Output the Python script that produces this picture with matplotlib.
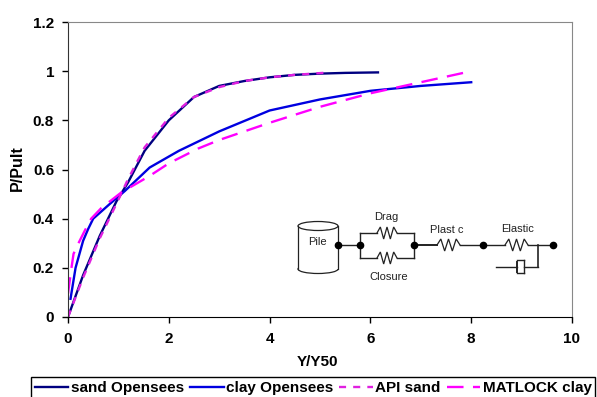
import matplotlib
matplotlib.use("Agg")
import matplotlib.pyplot as plt
from matplotlib.patches import Ellipse, Rectangle

sand_x = [0, 0.3, 0.63, 0.96, 1.19, 1.52, 2.0, 2.5, 3.0, 3.5, 4.0, 4.5, 5.0, 5.5, 6.15]
sand_y = [0, 0.17, 0.33, 0.47, 0.547, 0.676, 0.80, 0.895, 0.94, 0.96, 0.975, 0.985, 0.99, 0.993, 0.995]
clay_x = [0.05, 0.15, 0.3, 0.4, 0.5, 0.83, 1.13, 1.62, 2.2, 3.0, 4.0, 5.0, 6.0, 7.0, 8.0]
clay_y = [0.074, 0.2, 0.31, 0.358, 0.40, 0.46, 0.513, 0.608, 0.676, 0.755, 0.84, 0.885, 0.92, 0.94, 0.955]
api_x = [0, 0.3, 0.63, 0.96, 1.19, 1.52, 2.0, 2.5, 3.0, 3.5, 4.0, 4.5, 5.2]
api_y = [0, 0.16, 0.32, 0.46, 0.56, 0.69, 0.81, 0.895, 0.935, 0.96, 0.975, 0.985, 0.995]
matlock_x = [0, 0.066, 0.11, 0.2, 0.33, 0.46, 0.66, 1.06, 1.62, 2.0, 2.58, 3.0, 4.0, 5.0, 6.0, 7.0, 8.0]
matlock_y = [0.095, 0.196, 0.257, 0.297, 0.35, 0.40, 0.443, 0.507, 0.574, 0.625, 0.685, 0.72, 0.79, 0.855, 0.91, 0.955, 1.0]

xticks = [0, 2, 4, 6, 8, 10]
yticks = [0, 0.2, 0.4, 0.6, 0.8, 1, 1.2]
ylabels = ["0", "0.2", "0.4", "0.6", "0.8", "1", "1.2"]

plt.rcParams["font.family"] = ["Liberation Sans", "DejaVu Sans"]

W, H = 597, 397
fig = plt.figure(figsize=(W / 100, H / 100), dpi=100)
ax = fig.add_axes([68 / W, 1 - 317 / H, (572 - 68) / W, (317 - 22) / H])

ax.plot(sand_x, sand_y, color="#000080", lw=1.7, label="sand Opensees")
ax.plot(clay_x, clay_y, color="#0000e0", lw=1.7, label="clay Opensees")
ax.plot(api_x, api_y, color="#e020e0", lw=1.7, ls=(0, (3, 3)), label="API sand")
ax.plot(matlock_x, matlock_y, color="#ff00ff", lw=1.7, ls=(0, (7, 4)), label="MATLOCK clay")

ax.set_xlim(0, 10)
ax.set_ylim(0, 1.2)
ax.set_xticks(xticks)
ax.set_yticks(yticks, ylabels)
ax.tick_params(labelsize=11, width=1, length=4)
ax.tick_params(axis="x", pad=7)
ax.tick_params(axis="y", pad=6)
for t in ax.get_xticklabels() + ax.get_yticklabels():
    t.set_fontweight("bold")
for side in ["top", "right"]:
    ax.spines[side].set_color("#888888")
    ax.spines[side].set_linewidth(0.8)
ax.spines["left"].set_color("#333333")
ax.set_xlabel("Y/Y50", fontsize=11, fontweight="bold")
ax.set_ylabel("P/Pult", fontsize=11.5, fontweight="bold")
ax.xaxis.set_label_coords((317 - 68) / 504, -(362 - 317) / 295, transform=ax.transAxes)
ax.xaxis.label.set_verticalalignment("center")
ax.yaxis.set_label_coords(-(68 - 17) / 504, (317 - 168) / 295, transform=ax.transAxes)
ax.yaxis.label.set_verticalalignment("center")

leg = fig.legend(
    loc="lower left",
    bbox_to_anchor=(31 / W, -2 / H),
    ncol=4,
    prop={"weight": "bold", "size": 11},
    frameon=True,
    fancybox=False,
    edgecolor="black",
    framealpha=1,
    borderpad=0.25,
    borderaxespad=0,
    handlelength=2.2,
    handletextpad=0.15,
    columnspacing=0.4,
)
leg.get_frame().set_linewidth(1)

# pile diagram, in pixel coords
ov = fig.add_axes([0, 0, 1, 1], facecolor="none")
ov.set_xlim(0, W)
ov.set_ylim(H, 0)
ov.axis("off")


def wire(xs, ys, lw=1):
    ov.plot(xs, ys, color="#222222", lw=lw, solid_joinstyle="miter")


def spring(x0, x1, y):
    n = 6
    xs = [x0 + (x1 - x0) * i / n for i in range(n + 1)]
    ys = [y + (0 if i in (0, n) else (-6 if i % 2 else 6)) for i in range(n + 1)]
    wire(xs, ys, 0.9)


ov.add_patch(Ellipse((318, 269), 40, 9, fc="white", ec="#222222", lw=0.9))
ov.add_patch(Rectangle((298, 226), 40, 43, fc="white", ec="none"))
ov.add_patch(Ellipse((318, 226), 40, 9, fc="white", ec="#222222", lw=0.9))
wire([298, 298], [226, 269], 0.9)
wire([338, 338], [226, 269], 0.9)

wire([338, 360], [245, 245])
wire([360, 360], [233, 258])
wire([414, 414], [233, 258])
wire([360, 377], [233, 233])
wire([397, 414], [233, 233])
wire([360, 377], [258, 258])
wire([397, 414], [258, 258])
spring(377, 397, 233)
spring(377, 397, 258)
wire([414, 437], [245, 245], 1.4)
spring(437, 460, 245)
wire([460, 505], [245, 245])
spring(505, 528, 245)
wire([528, 553], [245, 245])
wire([538, 538], [245, 267], 1.2)
wire([524, 538], [267, 267])
wire([496, 517], [267, 267])
wire([517, 524], [260, 260])
wire([517, 524], [273, 273])
wire([524, 524], [260, 273])
wire([517, 517], [262, 272], 1.4)

for px in [338, 360, 414, 483, 553]:
    ov.plot([px], [245], "o", color="black", ms=4.5)

for s, x, y in [("Pile", 317, 242), ("Drag", 386, 217), ("Closure", 389, 277), ("Plast c", 447, 230), ("Elastic", 518, 229)]:
    ov.text(x, y, s, fontsize=8, ha="center", va="center", color="#222222")

fig.savefig("out.png", dpi=100)
